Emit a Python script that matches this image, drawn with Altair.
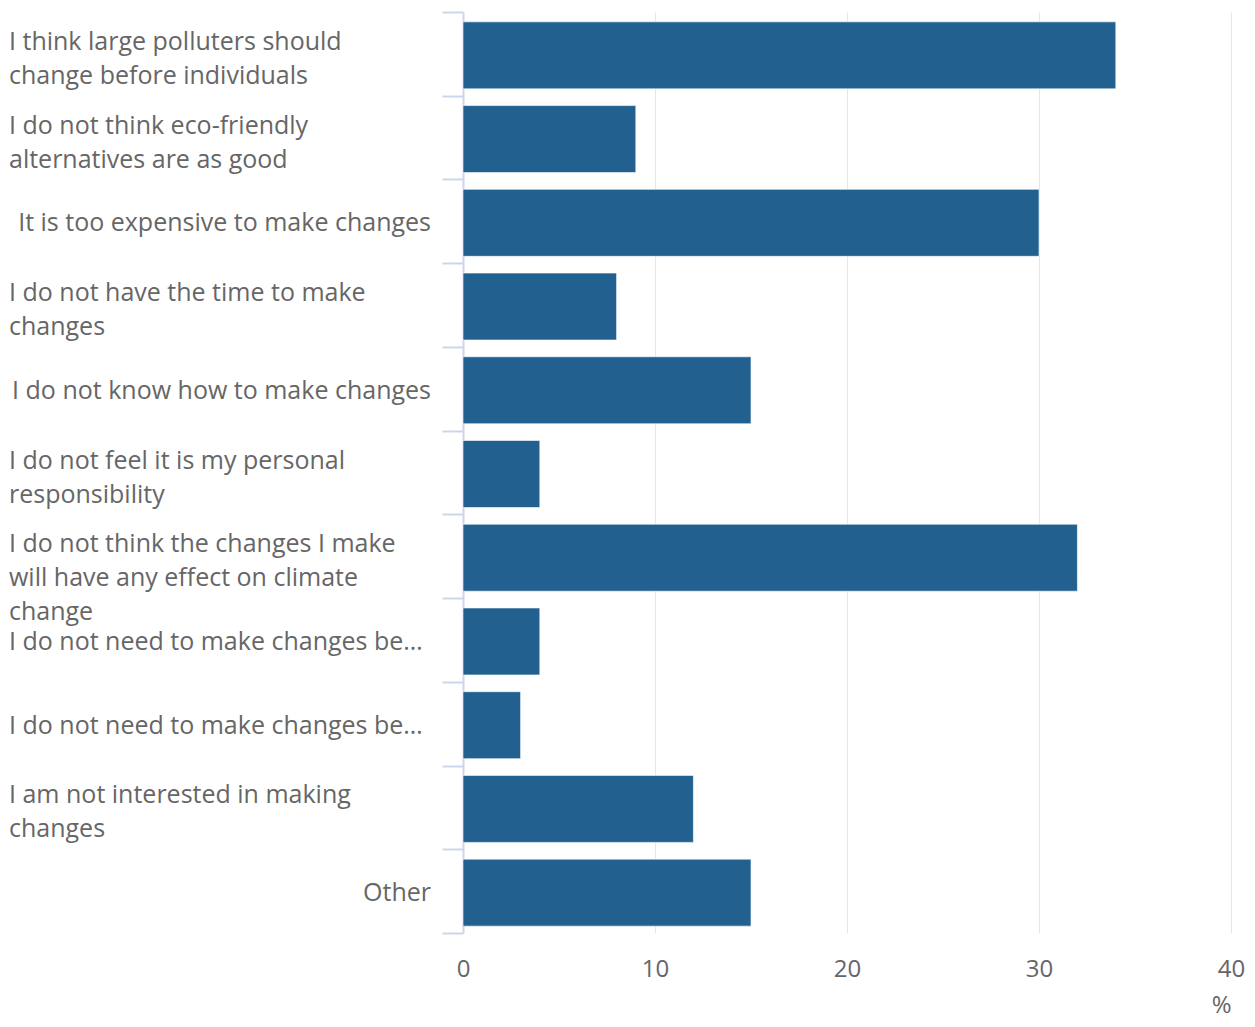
import altair as alt
import pandas as pd

label_lines = [
    ["I think large polluters should", "change before individuals"],
    ["I do not think eco-friendly", "alternatives are as good"],
    ["It is too expensive to make changes"],
    ["I do not have the time to make", "changes"],
    ["I do not know how to make changes"],
    ["I do not feel it is my personal", "responsibility"],
    ["I do not think the changes I make", "will have any effect on climate", "change"],
    ["I do not need to make changes be…"],
    ["I do not need to make changes be…"],
    ["I am not interested in making", "changes"],
    ["Other"],
]
truncated = [False, False, False, False, False, False, False, True, True, False, False]
values = [34, 9, 30, 8, 15, 4, 32, 4, 3, 12, 15]
x_ticks = [0, 10, 20, 30, 40]
x_title = "%"

rows = []
for i, (lines, trunc, v) in enumerate(zip(label_lines, truncated, values)):
    kind = "multi" if len(lines) > 1 else ("trunc" if trunc else "single")
    rows.append({"pos": i, "lines": lines, "value": v, "kind": kind})
df = pd.DataFrame(rows)

FONT = "Open Sans"
GRAY = "#666666"

y_enc = alt.Y(
    "pos:O",
    title=None,
    scale=alt.Scale(paddingInner=0, paddingOuter=0),
    axis=alt.Axis(
        labels=False,
        tickBand="extent",
        tickSize=21,
        tickColor="#ccd6eb",
        tickWidth=2,
        domainColor="#ccd6eb",
        domainWidth=2,
        grid=False,
    ),
)

base = alt.Chart(df)

bars = base.mark_bar(
    color="#21608f", stroke="#ffffff", strokeWidth=1, strokeOpacity=0.6,
    height={"band": 0.8}, yOffset=1.5,
).encode(
    y=y_enc,
    x=alt.X(
        "value:Q",
        scale=alt.Scale(domain=[0, 40], nice=False),
        axis=alt.Axis(
            values=x_ticks,
            grid=True,
            gridColor="#e6e6e6",
            gridWidth=1,
            domain=False,
            ticks=False,
            labelFlush=False,
            labelPadding=24,
            labelFontSize=24,
            labelColor=GRAY,
            labelFont=FONT,
            title=x_title,
            titleAnchor="end",
            titleAlign="right",
            titleFontSize=24,
            titleFontWeight="normal",
            titleColor=GRAY,
            titleFont=FONT,
            titlePadding=12,
        ),
    ),
)

text_style = dict(font=FONT, fontSize=25, color=GRAY, lineHeight=34)

multi = base.transform_filter("datum.kind == 'multi'").mark_text(
    align="left", baseline="top", dy=-24, **text_style
).encode(y=alt.Y("pos:O"), x=alt.value(-454), text=alt.Text("lines"))

trunc = base.transform_filter("datum.kind == 'trunc'").mark_text(
    align="left", baseline="middle", dy=2, **text_style
).encode(y=alt.Y("pos:O"), x=alt.value(-454), text=alt.Text("lines"))

single = base.transform_filter("datum.kind == 'single'").mark_text(
    align="right", baseline="middle", dy=2, **text_style
).encode(y=alt.Y("pos:O"), x=alt.value(-32), text=alt.Text("lines"))

chart = (
    alt.layer(bars, multi, trunc, single)
    .properties(
        width=768,
        height=921,
        autosize=alt.AutoSizeParams(type="none"),
        padding={"left": 455, "top": 4, "right": 16, "bottom": 86},
    )
    .configure(font=FONT)
    .configure_view(stroke="transparent", strokeWidth=0)
)

chart.save("out.html", embed_options={"renderer": "svg", "actions": False})
